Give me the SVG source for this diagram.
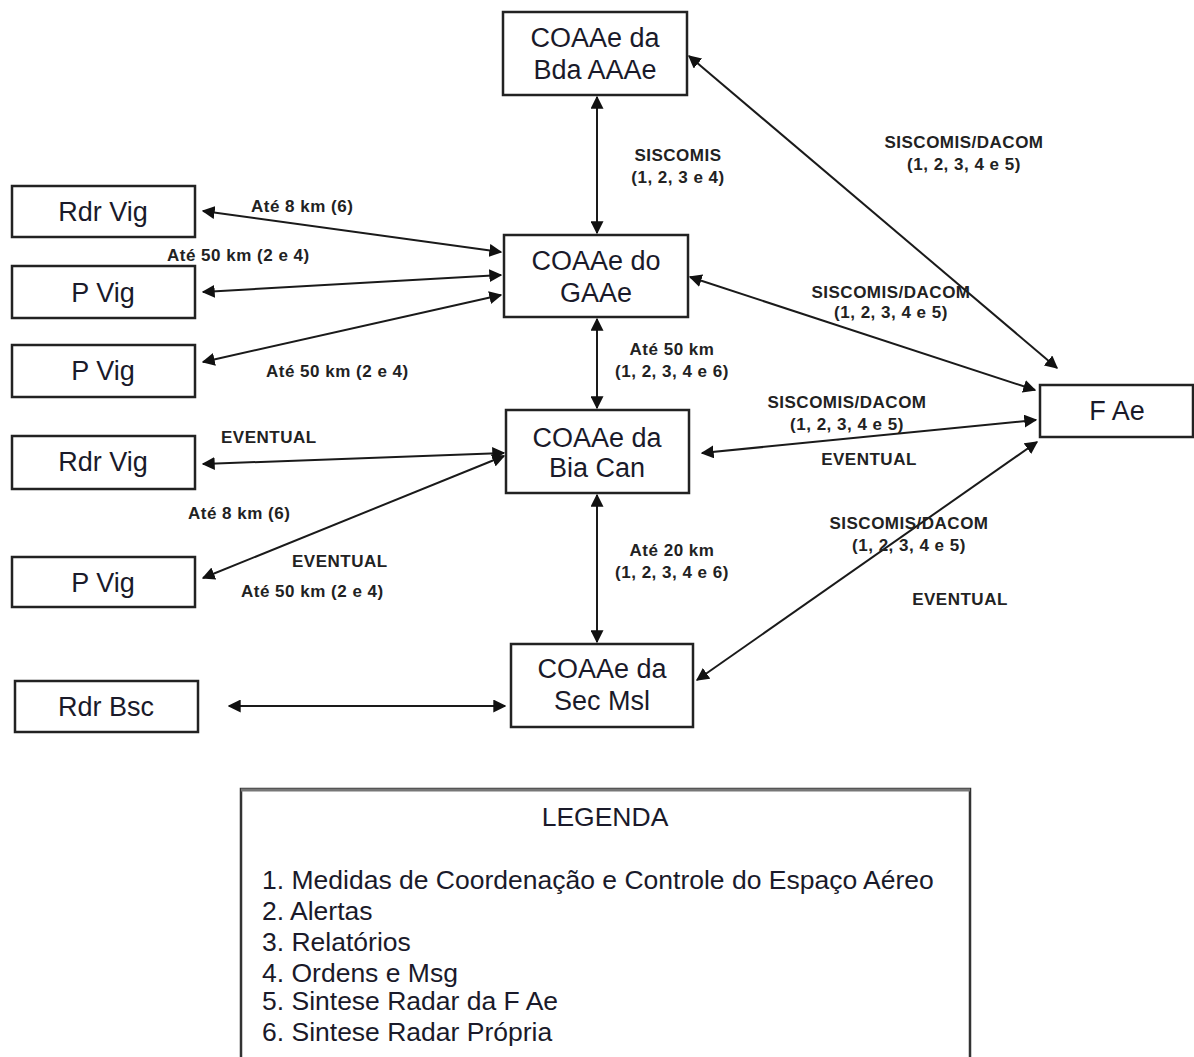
<svg xmlns="http://www.w3.org/2000/svg" width="1194" height="1057" viewBox="0 0 1194 1057">
<defs>
<style>
.box{fill:#fff;stroke:#222;stroke-width:2.5}
.nt{font-family:"Liberation Sans",Arial,sans-serif;font-size:27px;fill:#1a1a2a;text-anchor:middle}
.lb{font-family:"Liberation Sans",Arial,sans-serif;font-size:17px;font-weight:bold;fill:#222;letter-spacing:0.5px}
.lbc{text-anchor:middle}
.edge{stroke:#1a1a1a;stroke-width:2;fill:none;marker-start:url(#ah);marker-end:url(#ah)}
.lg{font-family:"Liberation Sans",Arial,sans-serif;font-size:26.5px;fill:#1a1a2a}
</style>
<marker id="ah" viewBox="0 0 10 10" refX="9" refY="5" markerWidth="6.5" markerHeight="6.5" orient="auto-start-reverse">
<path d="M0,0 L10,5 L0,10 z" fill="#111"/>
</marker>
</defs>
<rect width="1194" height="1057" fill="#fff"/>

<g id="connectors">
<line class="edge" x1="597" y1="97" x2="597" y2="233"/>
<line class="edge" x1="597" y1="319" x2="597" y2="408"/>
<line class="edge" x1="597" y1="495" x2="597" y2="642"/>
<line class="edge" x1="229" y1="706" x2="505" y2="706"/>
<line class="edge" x1="203" y1="211" x2="501" y2="252"/>
<line class="edge" x1="203" y1="292" x2="501" y2="275"/>
<line class="edge" x1="203" y1="362" x2="501" y2="295"/>
<line class="edge" x1="203" y1="464" x2="504" y2="453"/>
<line class="edge" x1="203" y1="578" x2="504" y2="456"/>
<line class="edge" x1="689" y1="56" x2="1057" y2="368"/>
<line class="edge" x1="690" y1="277" x2="1035" y2="390"/>
<line class="edge" x1="702" y1="453" x2="1036" y2="420"/>
<line class="edge" x1="697" y1="680" x2="1037" y2="442"/>
</g>

<g id="edge-labels">
<text class="lb lbc" x="678" y="161">SISCOMIS</text>
<text class="lb lbc" x="678" y="183">(1, 2, 3 e 4)</text>
<text class="lb lbc" x="964" y="148">SISCOMIS/DACOM</text>
<text class="lb lbc" x="964" y="170">(1, 2, 3, 4 e 5)</text>
<text class="lb lbc" x="891" y="298">SISCOMIS/DACOM</text>
<text class="lb lbc" x="891" y="318">(1, 2, 3, 4 e 5)</text>
<text class="lb lbc" x="672" y="355">Até 50 km</text>
<text class="lb lbc" x="672" y="377">(1, 2, 3, 4 e 6)</text>
<text class="lb lbc" x="847" y="408">SISCOMIS/DACOM</text>
<text class="lb lbc" x="847" y="430">(1, 2, 3, 4 e 5)</text>
<text class="lb lbc" x="869" y="465">EVENTUAL</text>
<text class="lb lbc" x="909" y="529">SISCOMIS/DACOM</text>
<text class="lb lbc" x="909" y="551">(1, 2, 3, 4 e 5)</text>
<text class="lb lbc" x="960" y="605">EVENTUAL</text>
<text class="lb lbc" x="672" y="556">Até 20 km</text>
<text class="lb lbc" x="672" y="578">(1, 2, 3, 4 e 6)</text>
<text class="lb" x="251" y="212">Até 8 km (6)</text>
<text class="lb" x="167" y="261">Até 50 km (2 e 4)</text>
<text class="lb" x="266" y="377">Até 50 km (2 e 4)</text>
<text class="lb" x="221" y="443">EVENTUAL</text>
<text class="lb" x="188" y="519">Até 8 km (6)</text>
<text class="lb" x="292" y="567">EVENTUAL</text>
<text class="lb" x="241" y="597">Até 50 km (2 e 4)</text>
</g>

<g id="n-bda"><rect class="box" x="503" y="12" width="184" height="83"/><text class="nt" x="595" y="47">COAAe da</text><text class="nt" x="595" y="79">Bda AAAe</text></g>
<g id="n-gaae"><rect class="box" x="504" y="235" width="184" height="82"/><text class="nt" x="596" y="270">COAAe do</text><text class="nt" x="596" y="302">GAAe</text></g>
<g id="n-bia"><rect class="box" x="506" y="410" width="183" height="83"/><text class="nt" x="597" y="447">COAAe da</text><text class="nt" x="597" y="477">Bia Can</text></g>
<g id="n-sec"><rect class="box" x="511" y="644" width="182" height="83"/><text class="nt" x="602" y="678">COAAe da</text><text class="nt" x="602" y="710">Sec Msl</text></g>
<g id="n-fae"><rect class="box" x="1040" y="385" width="153" height="52"/><text class="nt" x="1117" y="420">F Ae</text></g>
<g id="n-rdr1"><rect class="box" x="12" y="186" width="183" height="51"/><text class="nt" x="103" y="221">Rdr Vig</text></g>
<g id="n-pvig1"><rect class="box" x="12" y="266" width="183" height="52"/><text class="nt" x="103" y="302">P Vig</text></g>
<g id="n-pvig2"><rect class="box" x="12" y="345" width="183" height="52"/><text class="nt" x="103" y="380">P Vig</text></g>
<g id="n-rdr2"><rect class="box" x="12" y="436" width="183" height="53"/><text class="nt" x="103" y="471">Rdr Vig</text></g>
<g id="n-pvig3"><rect class="box" x="12" y="557" width="183" height="50"/><text class="nt" x="103" y="592">P Vig</text></g>
<g id="n-rdrbsc"><rect class="box" x="15" y="681" width="183" height="51"/><text class="nt" x="106" y="716">Rdr Bsc</text></g>

<g id="legend">
<path d="M241,1057 V789 H970 V1057" fill="#fff" stroke="#333" stroke-width="2.5"/>
<line x1="241" y1="790" x2="970" y2="790" stroke="#777" stroke-width="3"/>
<text class="lg" x="605" y="826" text-anchor="middle">LEGENDA</text>
<text class="lg" x="262" y="889">1. Medidas de Coordenação e Controle do Espaço Aéreo</text>
<text class="lg" x="262" y="920">2. Alertas</text>
<text class="lg" x="262" y="951">3. Relatórios</text>
<text class="lg" x="262" y="982">4. Ordens e Msg</text>
<text class="lg" x="262" y="1010">5. Sintese Radar da F Ae</text>
<text class="lg" x="262" y="1041">6. Sintese Radar Própria</text>
</g>
</svg>
